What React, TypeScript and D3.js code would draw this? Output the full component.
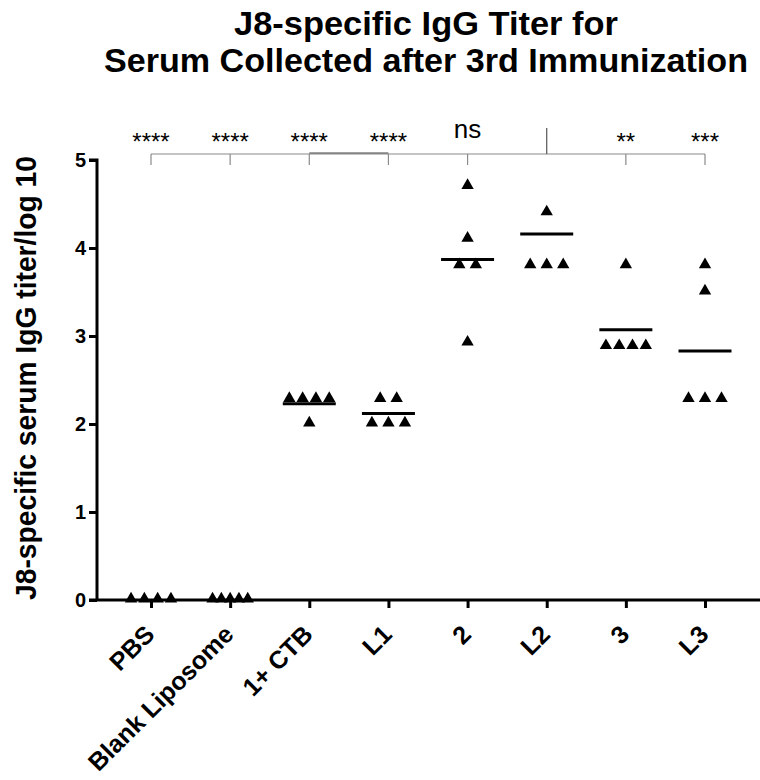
import React, { useEffect, useRef } from 'react';
import * as d3 from 'd3';

// groups on the x axis
const categories = ['PBS', 'Blank Liposome', '1+ CTB', 'L1', '2', 'L2', '3', 'L3'];

// individual titers (log10) per group
const pbsValues = [0, 0, 0, 0];
const blankValues = [0, 0, 0, 0, 0];
const ctbValues = [2.28, 2.28, 2.28, 2.28, 2.0];
const l1Values = [2.28, 2.28, 2.0, 2.0, 2.0];
const g2Values = [4.7, 4.1, 3.8, 3.8, 2.92];
const l2Values = [4.4, 3.8, 3.8, 3.8];
const g3Values = [3.8, 2.88, 2.88, 2.88, 2.88];
const l3Values = [3.8, 3.5, 2.28, 2.28, 2.28];
const groupValues = [pbsValues, blankValues, ctbValues, l1Values, g2Values, l2Values, g3Values, l3Values];

// horizontal mean bars as drawn
const meanValues = [0, 0, 2.23, 2.12, 3.87, 4.16, 3.07, 2.83];

// significance vs L2
const sigLabels = ['****', '****', '****', '****', 'ns', '', '**', '***'];
const refGroup = 'L2';

const yTicks = [0, 1, 2, 3, 4, 5];

const FONT = '"Liberation Sans", Arial, Helvetica, sans-serif';

const W = 760, H = 780;
const margin = { left: 97, right: 0, top: 160, bottom: 180 };

// horizontal spread of coincident points, like Prism does
const spread = (n: number) => (n <= 3 ? 16.5 : n === 4 ? 13.3 : 8.8);

export default function App() {
  const ref = useRef<SVGSVGElement>(null);

  useEffect(() => {
    const svg = d3.select(ref.current);
    svg.selectAll('*').remove();

    const x = d3.scalePoint<string>()
      .domain(categories)
      .range([margin.left + 54, W - 55]);
    const y = d3.scaleLinear().domain([0, 5]).range([H - margin.bottom, margin.top]);

    // title
    const title = svg.append('text')
      .attr('text-anchor', 'middle')
      .attr('font-family', FONT)
      .attr('font-weight', 'bold')
      .attr('font-size', 34);
    title.append('tspan').attr('x', 426).attr('y', 35)
      .attr('textLength', 384).attr('lengthAdjust', 'spacingAndGlyphs')
      .text('J8-specific IgG Titer for');
    title.append('tspan').attr('x', 426).attr('y', 72)
      .attr('textLength', 644).attr('lengthAdjust', 'spacingAndGlyphs')
      .text('Serum Collected after 3rd Immunization');

    // y axis label
    svg.append('text')
      .attr('transform', `translate(36, ${(y(0) + y(5)) / 2 - 2}) rotate(-90)`)
      .attr('text-anchor', 'middle')
      .attr('font-family', FONT)
      .attr('font-weight', 'bold')
      .attr('font-size', 30)
      .attr('textLength', 444)
      .attr('lengthAdjust', 'spacingAndGlyphs')
      .text('J8-specific serum IgG titer/log 10');

    // y axis
    const yAxis = svg.append('g')
      .attr('transform', `translate(${margin.left},0)`)
      .call(d3.axisLeft(y).tickValues(yTicks).tickFormat(d3.format('d')).tickSize(8).tickPadding(3));
    yAxis.select('.domain').attr('stroke-width', 3).attr('d', `M-8,${y(5)}H0V${y(0)}`);
    yAxis.selectAll('.tick line').attr('stroke-width', 3);
    yAxis.selectAll('.tick text')
      .attr('font-family', FONT)
      .attr('font-weight', 'bold')
      .attr('font-size', 20)
      .attr('fill', '#000');

    // x axis
    const xAxis = svg.append('g')
      .attr('transform', `translate(0,${y(0)})`)
      .call(d3.axisBottom(x).tickSize(8).tickFormat(() => ''));
    xAxis.select('.domain').attr('stroke-width', 3).attr('d', `M${margin.left - 8},0H${W}`);
    xAxis.selectAll('.tick line').attr('stroke-width', 3);

    svg.append('g')
      .selectAll('text')
      .data(categories)
      .join('text')
      .attr('transform', (d) => `translate(${(x(d) as number) + 5},${y(0) + 36}) rotate(-45)`)
      .attr('text-anchor', 'end')
      .attr('font-family', FONT)
      .attr('font-weight', 'bold')
      .attr('font-size', 25)
      .text((d) => d);

    // points
    const points: { cx: number; cy: number }[] = [];
    categories.forEach((c, i) => {
      const vals = groupValues[i];
      const clusters = d3.group(vals, (v) => v);
      clusters.forEach((arr, v) => {
        const n = arr.length;
        const s = spread(n);
        arr.forEach((_, k) => {
          points.push({ cx: (x(c) as number) + (k - (n - 1) / 2) * s, cy: y(v) });
        });
      });
    });

    const tri = d3.symbol(d3.symbolTriangle, 66);
    svg.append('g')
      .selectAll('path')
      .data(points)
      .join('path')
      .attr('d', tri)
      .attr('transform', (d) => `translate(${d.cx},${d.cy - 1})`)
      .attr('fill', '#000');

    // mean bars
    svg.append('g')
      .selectAll('line')
      .data(categories.map((c, i) => ({ c, m: meanValues[i] })).filter((d) => d.m > 0))
      .join('line')
      .attr('x1', (d) => (x(d.c) as number) - 26.5)
      .attr('x2', (d) => (x(d.c) as number) + 26.5)
      .attr('y1', (d) => y(d.m))
      .attr('y2', (d) => y(d.m))
      .attr('stroke', '#000')
      .attr('stroke-width', 3);

    // significance brackets
    const by = 154;
    const sig = svg.append('g').attr('stroke', '#8a8a8a').attr('stroke-width', 1.2).attr('fill', 'none');
    sig.append('line')
      .attr('x1', x(categories[0]) as number).attr('x2', x(categories[categories.length - 1]) as number)
      .attr('y1', by).attr('y2', by);
    sig.append('line')
      .attr('x1', x('1+ CTB') as number).attr('x2', x('L1') as number)
      .attr('y1', by - 1).attr('y2', by - 1)
      .attr('stroke', '#444');
    categories.forEach((c) => {
      const cx = x(c) as number;
      if (c === refGroup) {
        sig.append('line').attr('x1', cx).attr('x2', cx).attr('y1', by).attr('y2', by - 26).attr('stroke', '#555');
      } else {
        sig.append('line').attr('x1', cx).attr('x2', cx).attr('y1', by).attr('y2', by + 11);
      }
    });

    svg.append('g')
      .selectAll('text')
      .data(categories.map((c, i) => ({ c, t: sigLabels[i] })).filter((d) => d.t))
      .join('text')
      .attr('x', (d) => x(d.c) as number)
      .attr('y', (d) => (d.t === 'ns' ? 138 : 150))
      .attr('text-anchor', 'middle')
      .attr('font-family', FONT)
      .attr('font-size', (d) => (d.t === 'ns' ? 26 : 24))
      .text((d) => d.t);
  }, []);

  return (
    <div style={{ position: 'absolute', left: 0, top: 0, background: '#fff' }}>
      <svg ref={ref} width={W} height={H} style={{ display: 'block' }} />
    </div>
  );
}
